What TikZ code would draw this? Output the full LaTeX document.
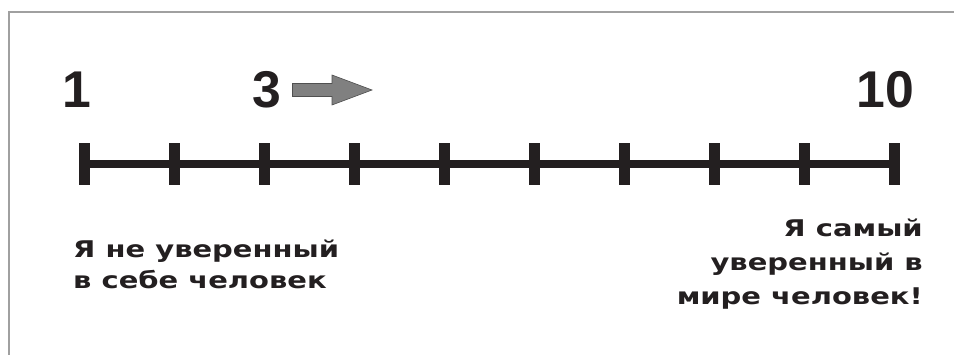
\documentclass[tikz,border=0pt]{standalone}
\usepackage{fontspec}
\setmainfont{Liberation Sans}
\newfontfamily\capfont[FakeStretch=1.26]{DejaVu Sans}
\definecolor{ink}{HTML}{231F20}
\definecolor{framegray}{HTML}{A0A0A0}
\definecolor{arrowfill}{HTML}{808080}
\definecolor{arrowedge}{HTML}{505050}
\begin{document}
\begin{tikzpicture}[x=1pt,y=-1pt,
  tickmark/.style={fill=ink, inner sep=0, minimum width=11pt, minimum height=42pt},
  num/.style={font=\fontsize{51.7}{52}\selectfont\bfseries, text=ink, inner sep=0, anchor=base west},
  caption/.style={font=\capfont\bfseries\fontsize{23}{28}\selectfont, text=ink, inner sep=0}]
\useasboundingbox (0,0) rectangle (954,355);
\fill[white] (0,0) rectangle (954,355);
\draw[framegray, line width=1.5pt] (954,12) -- (9,12) -- (9,355);
% ticks
\foreach \i in {1,...,10}
  \node[tickmark] (t\i) at ({84+90.1*(\i-1)},164) {};
\draw[ink, line width=8pt] (t1.center) -- (t10.center);
% numbers
\node[num] (n1) at (62.4,108) {1};
\node[num] (n3) at (252,108) {3};
\node[num] (n10) at (856.4,108) {10};
% arrow
\draw[arrowedge, fill=arrowfill, line width=0.6pt]
  (292.5,83.5) -- (332,83.5) -- (332,75) -- (372,90) -- (332,105)
  -- (332,96.5) -- (292.5,96.5) -- cycle;
% captions
\node[caption, anchor=base west] (l1) at (73,258) {Я не уверенный};
\node[caption, anchor=base west] (l2) at (73,289) {в себе человек};
\node[caption, anchor=base east] (r1) at (923,237) {Я самый};
\node[caption, anchor=base east] (r2) at (923,271) {уверенный в};
\node[caption, anchor=base east] (r3) at (923,305) {мире человек!};
\end{tikzpicture}
\end{document}
